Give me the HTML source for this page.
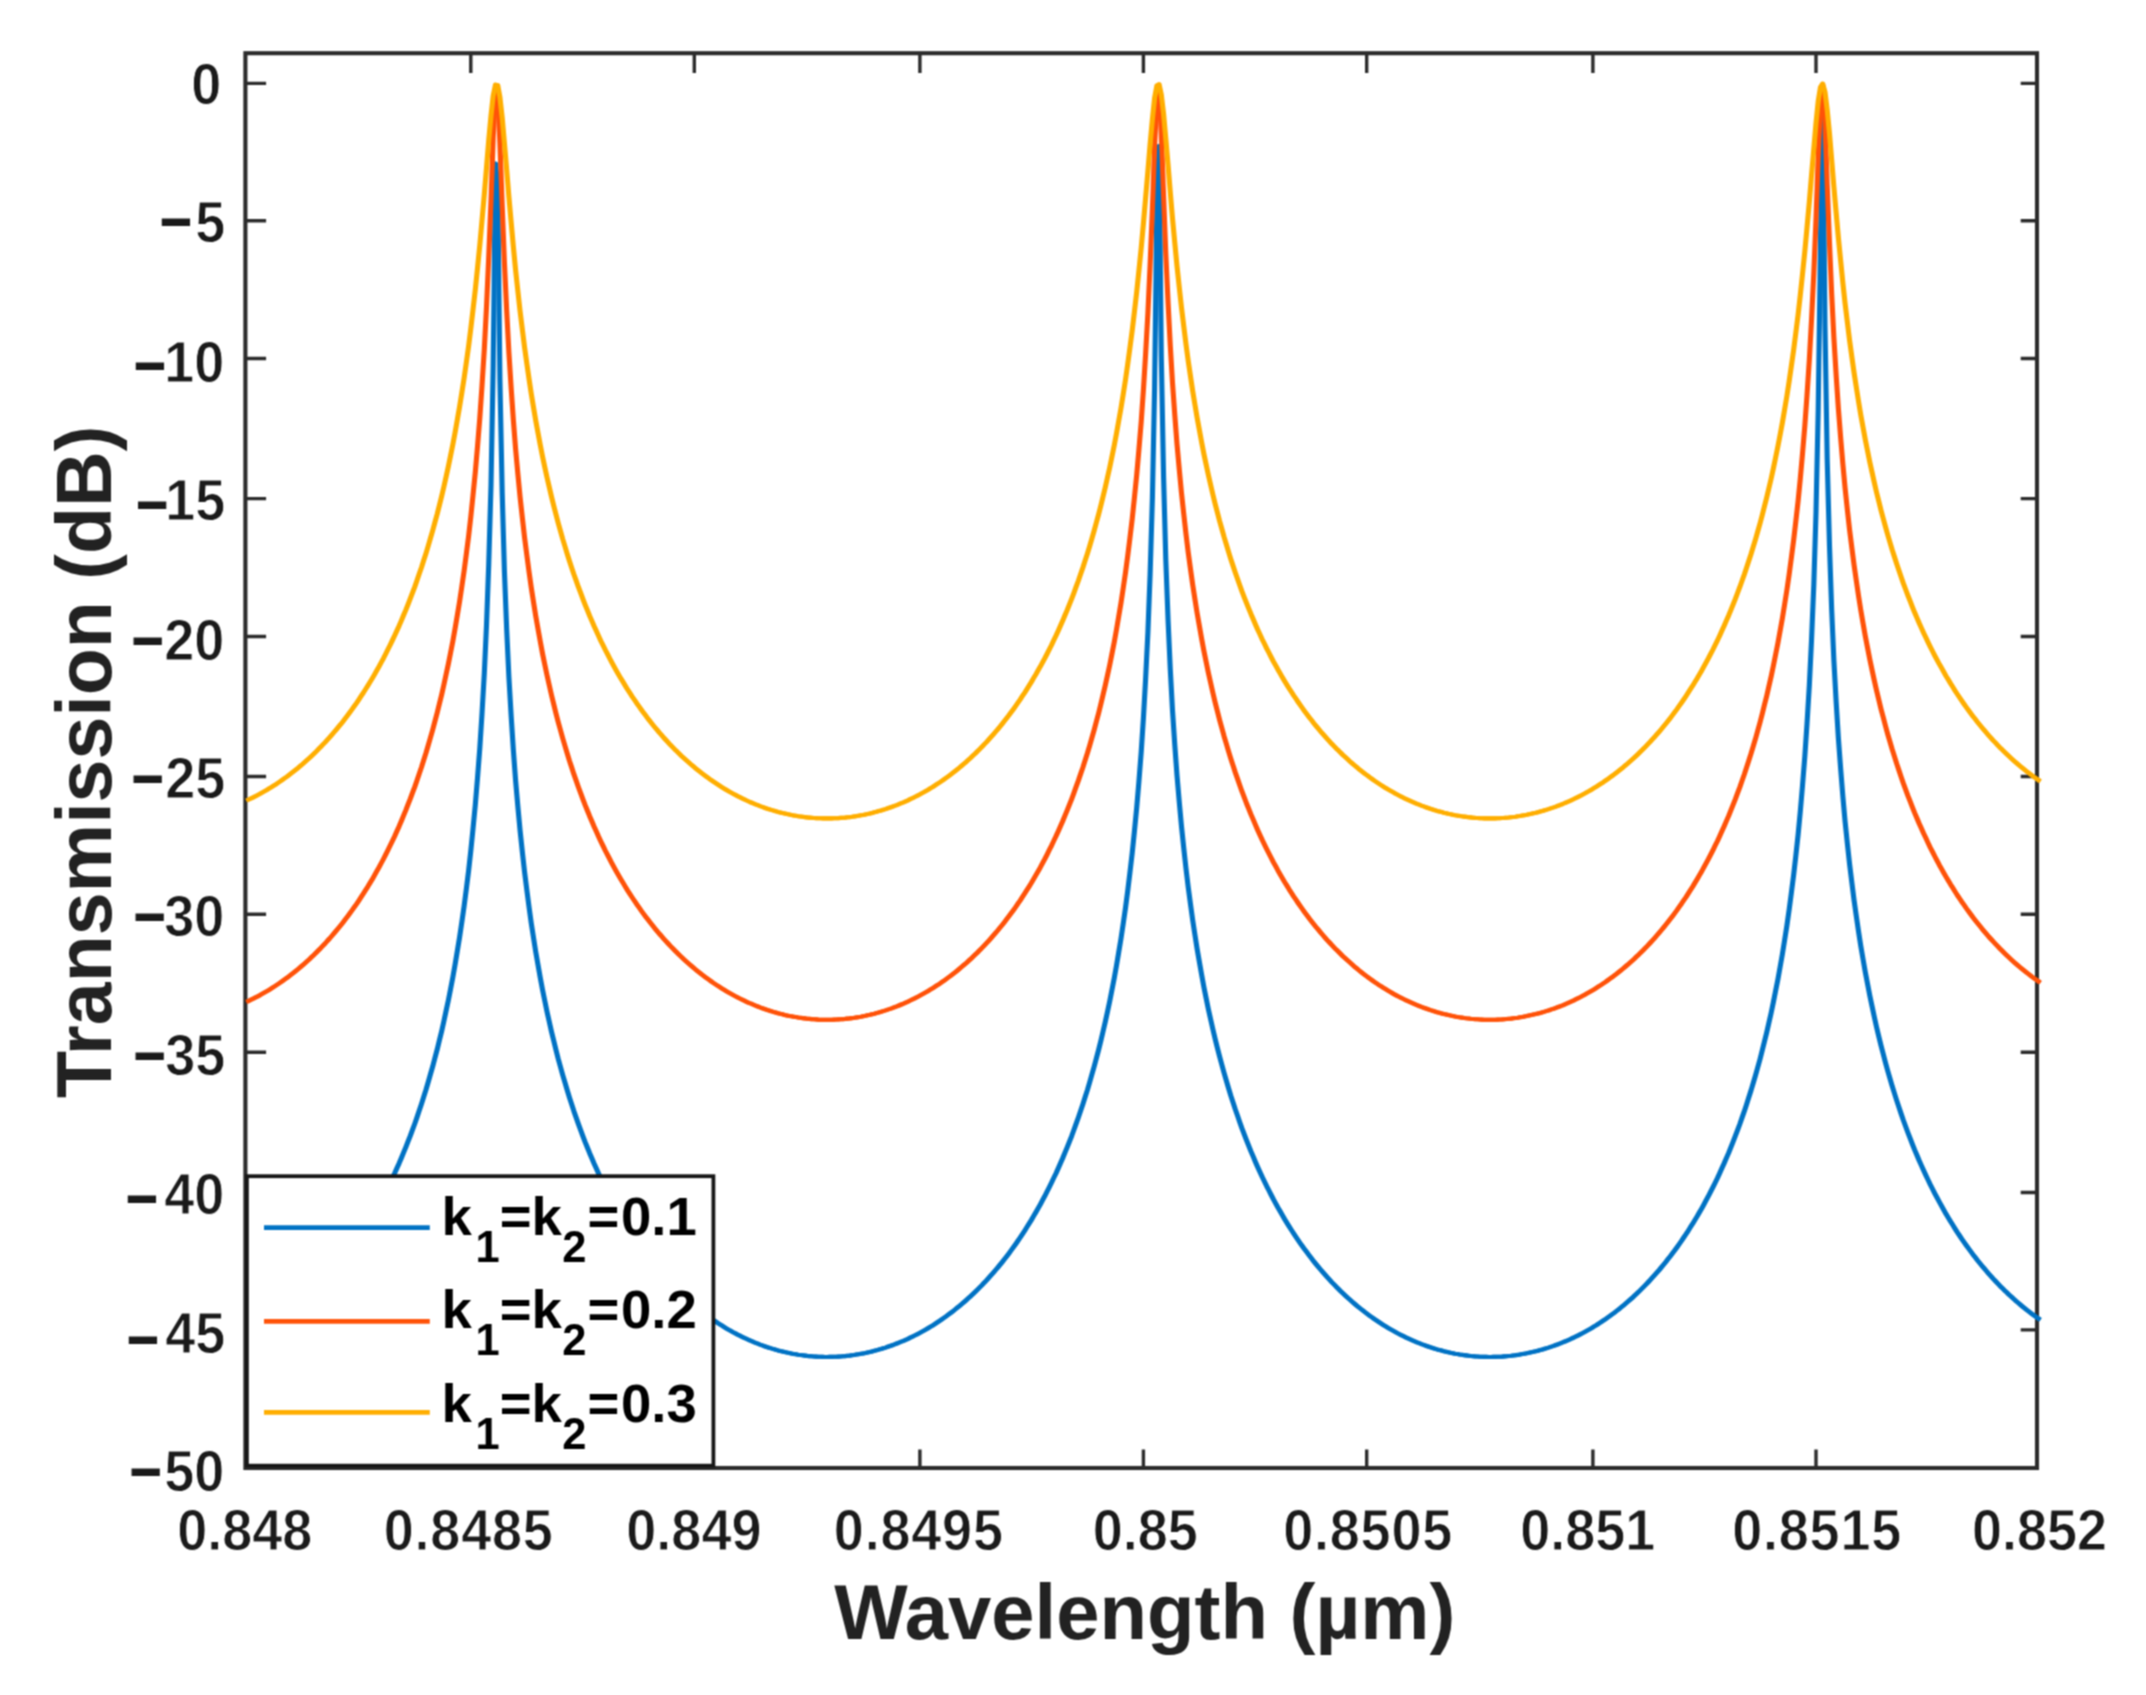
<!DOCTYPE html>
<html lang="en"><head><meta charset="utf-8"><title>Transmission vs Wavelength</title>
<style>
html,body{margin:0;padding:0;background:#fff;}
body{width:2146px;height:1695px;overflow:hidden;}
svg{display:block;}
text{font-family:"Liberation Sans",Arial,Helvetica,sans-serif;font-weight:bold;}
.tk{font-size:54.0px;fill:#1a1a1a;stroke:#fff;stroke-width:0.9px;}
.mn{stroke:#1a1a1a;stroke-width:1.2px;}
.lb{font-size:77.8px;fill:#222;}
.lg{font-size:54.5px;fill:#000;}
.sb{font-size:43.5px;}
</style></head><body>
<svg width="2146" height="1695" viewBox="0 0 2146 1695">
<rect x="0" y="0" width="2146" height="1695" fill="#ffffff"/>
<defs><filter id="soft" x="0" y="0" width="2146" height="1695" filterUnits="userSpaceOnUse" color-interpolation-filters="sRGB"><feConvolveMatrix order="3" kernelMatrix="1 2 1 2 4 2 1 2 1" edgeMode="duplicate" preserveAlpha="true"/></filter>
<polyline id="c0" points="246.6,1339.0 248.8,1338.0 251.1,1336.9 253.3,1335.8 255.6,1334.6 257.8,1333.4 260.1,1332.2 262.3,1331.0 264.5,1329.7 266.8,1328.4 269.0,1327.1 271.3,1325.7 273.5,1324.3 275.7,1322.8 278.0,1321.3 280.2,1319.8 282.5,1318.2 284.7,1316.6 287.0,1315.0 289.2,1313.3 291.4,1311.6 293.7,1309.8 295.9,1308.0 298.2,1306.2 300.4,1304.3 302.7,1302.4 304.9,1300.4 307.1,1298.4 309.4,1296.3 311.6,1294.2 313.9,1292.1 316.1,1289.9 318.3,1287.7 320.6,1285.4 322.8,1283.0 325.1,1280.6 327.3,1278.2 329.6,1275.7 331.8,1273.1 334.0,1270.5 336.3,1267.9 338.5,1265.2 340.8,1262.4 343.0,1259.6 345.2,1256.7 347.5,1253.7 349.7,1250.7 352.0,1247.6 354.2,1244.4 356.5,1241.2 358.7,1237.9 360.9,1234.5 363.2,1231.1 365.4,1227.5 367.7,1223.9 369.9,1220.2 372.2,1216.4 374.4,1212.6 376.6,1208.6 378.9,1204.6 381.1,1200.4 383.4,1196.2 385.6,1191.8 387.8,1187.4 390.1,1182.8 392.3,1178.1 394.6,1173.3 396.8,1168.4 399.1,1163.3 401.3,1158.1 403.5,1152.7 405.8,1147.2 408.0,1141.6 410.3,1135.8 412.5,1129.8 414.8,1123.6 417.0,1117.3 419.2,1110.7 421.5,1103.9 423.7,1096.9 426.0,1089.7 428.2,1082.2 430.4,1074.4 432.7,1066.4 434.9,1058.0 437.2,1049.4 439.4,1040.3 441.7,1030.9 443.9,1021.1 446.1,1010.8 448.4,1000.1 450.6,988.8 452.9,976.9 455.1,964.4 457.3,951.2 459.6,937.2 461.8,922.2 464.1,906.3 466.3,889.2 468.6,870.8 470.8,850.8 473.0,828.9 475.3,804.9 477.5,778.2 479.8,748.1 482.0,713.7 484.3,673.5 486.5,625.3 488.7,565.1 491.0,485.1 493.2,367.1 495.5,163.5 497.7,184.7 499.9,379.3 502.2,492.9 504.4,570.7 506.7,629.7 508.9,677.1 511.2,716.7 513.4,750.7 515.6,780.5 517.9,807.0 520.1,830.8 522.4,852.5 524.6,872.3 526.9,890.6 529.1,907.6 531.3,923.5 533.6,938.3 535.8,952.3 538.1,965.4 540.3,977.9 542.5,989.7 544.8,1000.9 547.0,1011.7 549.3,1021.9 551.5,1031.7 553.8,1041.0 556.0,1050.0 558.2,1058.7 560.5,1067.0 562.7,1075.0 565.0,1082.7 567.2,1090.2 569.4,1097.4 571.7,1104.4 573.9,1111.2 576.2,1117.7 578.4,1124.0 580.7,1130.2 582.9,1136.2 585.1,1142.0 587.4,1147.6 589.6,1153.1 591.9,1158.4 594.1,1163.6 596.4,1168.7 598.6,1173.6 600.8,1178.4 603.1,1183.1 605.3,1187.6 607.6,1192.1 609.8,1196.4 612.0,1200.6 614.3,1204.8 616.5,1208.8 618.8,1212.8 621.0,1216.6 623.3,1220.4 625.5,1224.1 627.7,1227.7 630.0,1231.2 632.2,1234.6 634.5,1238.0 636.7,1241.3 639.0,1244.5 641.2,1247.7 643.4,1250.8 645.7,1253.8 647.9,1256.7 650.2,1259.6 652.4,1262.5 654.6,1265.2 656.9,1267.9 659.1,1270.6 661.4,1273.2 663.6,1275.7 665.9,1278.2 668.1,1280.7 670.3,1283.1 672.6,1285.4 674.8,1287.7 677.1,1289.9 679.3,1292.1 681.5,1294.2 683.8,1296.3 686.0,1298.4 688.3,1300.4 690.5,1302.4 692.8,1304.3 695.0,1306.2 697.2,1308.0 699.5,1309.8 701.7,1311.6 704.0,1313.3 706.2,1314.9 708.5,1316.6 710.7,1318.2 712.9,1319.7 715.2,1321.3 717.4,1322.8 719.7,1324.2 721.9,1325.6 724.1,1327.0 726.4,1328.4 728.6,1329.7 730.9,1330.9 733.1,1332.2 735.4,1333.4 737.6,1334.6 739.8,1335.7 742.1,1336.8 744.3,1337.9 746.6,1338.9 748.8,1340.0 751.1,1340.9 753.3,1341.9 755.5,1342.8 757.8,1343.7 760.0,1344.6 762.3,1345.4 764.5,1346.2 766.7,1347.0 769.0,1347.7 771.2,1348.4 773.5,1349.1 775.7,1349.7 778.0,1350.4 780.2,1351.0 782.4,1351.5 784.7,1352.1 786.9,1352.6 789.2,1353.0 791.4,1353.5 793.6,1353.9 795.9,1354.3 798.1,1354.7 800.4,1355.0 802.6,1355.3 804.9,1355.6 807.1,1355.9 809.3,1356.1 811.6,1356.3 813.8,1356.5 816.1,1356.6 818.3,1356.8 820.6,1356.8 822.8,1356.9 825.0,1357.0 827.3,1357.0 829.5,1356.9 831.8,1356.9 834.0,1356.8 836.2,1356.7 838.5,1356.6 840.7,1356.5 843.0,1356.3 845.2,1356.1 847.5,1355.8 849.7,1355.6 851.9,1355.3 854.2,1355.0 856.4,1354.6 858.7,1354.2 860.9,1353.8 863.2,1353.4 865.4,1353.0 867.6,1352.5 869.9,1352.0 872.1,1351.4 874.4,1350.8 876.6,1350.3 878.8,1349.6 881.1,1349.0 883.3,1348.3 885.6,1347.6 887.8,1346.8 890.1,1346.0 892.3,1345.2 894.5,1344.4 896.8,1343.5 899.0,1342.6 901.3,1341.7 903.5,1340.8 905.7,1339.8 908.0,1338.8 910.2,1337.7 912.5,1336.6 914.7,1335.5 917.0,1334.4 919.2,1333.2 921.4,1332.0 923.7,1330.7 925.9,1329.4 928.2,1328.1 930.4,1326.8 932.7,1325.4 934.9,1324.0 937.1,1322.5 939.4,1321.0 941.6,1319.5 943.9,1317.9 946.1,1316.3 948.3,1314.7 950.6,1313.0 952.8,1311.3 955.1,1309.5 957.3,1307.7 959.6,1305.9 961.8,1304.0 964.0,1302.1 966.3,1300.1 968.5,1298.1 970.8,1296.1 973.0,1294.0 975.3,1291.8 977.5,1289.6 979.7,1287.4 982.0,1285.1 984.2,1282.7 986.5,1280.4 988.7,1277.9 990.9,1275.4 993.2,1272.9 995.4,1270.3 997.7,1267.6 999.9,1264.9 1002.2,1262.1 1004.4,1259.3 1006.6,1256.4 1008.9,1253.4 1011.1,1250.4 1013.4,1247.3 1015.6,1244.2 1017.8,1241.0 1020.1,1237.7 1022.3,1234.3 1024.6,1230.9 1026.8,1227.3 1029.1,1223.7 1031.3,1220.1 1033.5,1216.3 1035.8,1212.4 1038.0,1208.5 1040.3,1204.4 1042.5,1200.3 1044.8,1196.1 1047.0,1191.7 1049.2,1187.3 1051.5,1182.7 1053.7,1178.0 1056.0,1173.3 1058.2,1168.3 1060.4,1163.3 1062.7,1158.1 1064.9,1152.8 1067.2,1147.3 1069.4,1141.7 1071.7,1135.9 1073.9,1129.9 1076.1,1123.8 1078.4,1117.4 1080.6,1110.9 1082.9,1104.1 1085.1,1097.2 1087.4,1090.0 1089.6,1082.5 1091.8,1074.8 1094.1,1066.8 1096.3,1058.5 1098.6,1049.9 1100.8,1040.9 1103.0,1031.6 1105.3,1021.8 1107.5,1011.6 1109.8,1000.9 1112.0,989.7 1114.3,977.9 1116.5,965.5 1118.7,952.4 1121.0,938.5 1123.2,923.7 1125.5,907.9 1127.7,891.0 1129.9,872.8 1132.2,853.1 1134.4,831.5 1136.7,807.8 1138.9,781.6 1141.2,752.0 1143.4,718.3 1145.6,679.1 1147.9,632.4 1150.1,574.3 1152.4,498.1 1154.6,387.9 1156.9,200.9 1159.1,146.1 1161.3,356.2 1163.6,477.9 1165.8,559.6 1168.1,620.9 1170.3,669.7 1172.5,710.3 1174.8,745.1 1177.0,775.4 1179.3,802.3 1181.5,826.5 1183.8,848.5 1186.0,868.6 1188.2,887.1 1190.5,904.3 1192.7,920.3 1195.0,935.3 1197.2,949.4 1199.5,962.7 1201.7,975.2 1203.9,987.1 1206.2,998.5 1208.4,1009.3 1210.7,1019.6 1212.9,1029.4 1215.1,1038.8 1217.4,1047.9 1219.6,1056.6 1221.9,1065.0 1224.1,1073.0 1226.4,1080.8 1228.6,1088.3 1230.8,1095.6 1233.1,1102.6 1235.3,1109.4 1237.6,1115.9 1239.8,1122.3 1242.0,1128.5 1244.3,1134.5 1246.5,1140.3 1248.8,1146.0 1251.0,1151.5 1253.3,1156.8 1255.5,1162.1 1257.7,1167.1 1260.0,1172.1 1262.2,1176.9 1264.5,1181.6 1266.7,1186.2 1269.0,1190.6 1271.2,1195.0 1273.4,1199.3 1275.7,1203.4 1277.9,1207.5 1280.2,1211.4 1282.4,1215.3 1284.6,1219.1 1286.9,1222.8 1289.1,1226.4 1291.4,1230.0 1293.6,1233.4 1295.9,1236.8 1298.1,1240.1 1300.3,1243.3 1302.6,1246.5 1304.8,1249.6 1307.1,1252.6 1309.3,1255.6 1311.6,1258.5 1313.8,1261.4 1316.0,1264.1 1318.3,1266.9 1320.5,1269.5 1322.8,1272.2 1325.0,1274.7 1327.2,1277.2 1329.5,1279.7 1331.7,1282.1 1334.0,1284.4 1336.2,1286.7 1338.5,1289.0 1340.7,1291.2 1342.9,1293.3 1345.2,1295.4 1347.4,1297.5 1349.7,1299.5 1351.9,1301.5 1354.1,1303.4 1356.4,1305.3 1358.6,1307.2 1360.9,1309.0 1363.1,1310.7 1365.4,1312.5 1367.6,1314.2 1369.8,1315.8 1372.1,1317.4 1374.3,1319.0 1376.6,1320.5 1378.8,1322.0 1381.1,1323.5 1383.3,1324.9 1385.5,1326.3 1387.8,1327.7 1390.0,1329.0 1392.3,1330.3 1394.5,1331.5 1396.7,1332.8 1399.0,1334.0 1401.2,1335.1 1403.5,1336.2 1405.7,1337.3 1408.0,1338.4 1410.2,1339.4 1412.4,1340.4 1414.7,1341.4 1416.9,1342.3 1419.2,1343.2 1421.4,1344.1 1423.7,1344.9 1425.9,1345.7 1428.1,1346.5 1430.4,1347.3 1432.6,1348.0 1434.9,1348.7 1437.1,1349.4 1439.3,1350.0 1441.6,1350.6 1443.8,1351.2 1446.1,1351.7 1448.3,1352.3 1450.6,1352.8 1452.8,1353.2 1455.0,1353.7 1457.3,1354.1 1459.5,1354.5 1461.8,1354.8 1464.0,1355.1 1466.2,1355.4 1468.5,1355.7 1470.7,1356.0 1473.0,1356.2 1475.2,1356.4 1477.5,1356.5 1479.7,1356.7 1481.9,1356.8 1484.2,1356.9 1486.4,1356.9 1488.7,1357.0 1490.9,1357.0 1493.2,1356.9 1495.4,1356.9 1497.6,1356.8 1499.9,1356.7 1502.1,1356.6 1504.4,1356.4 1506.6,1356.2 1508.8,1356.0 1511.1,1355.8 1513.3,1355.5 1515.6,1355.2 1517.8,1354.9 1520.1,1354.5 1522.3,1354.1 1524.5,1353.7 1526.8,1353.3 1529.0,1352.8 1531.3,1352.3 1533.5,1351.8 1535.8,1351.3 1538.0,1350.7 1540.2,1350.1 1542.5,1349.5 1544.7,1348.8 1547.0,1348.1 1549.2,1347.4 1551.4,1346.6 1553.7,1345.9 1555.9,1345.0 1558.2,1344.2 1560.4,1343.3 1562.7,1342.4 1564.9,1341.5 1567.1,1340.6 1569.4,1339.6 1571.6,1338.5 1573.9,1337.5 1576.1,1336.4 1578.3,1335.3 1580.6,1334.1 1582.8,1333.0 1585.1,1331.7 1587.3,1330.5 1589.6,1329.2 1591.8,1327.9 1594.0,1326.5 1596.3,1325.2 1598.5,1323.7 1600.8,1322.3 1603.0,1320.8 1605.3,1319.3 1607.5,1317.7 1609.7,1316.1 1612.0,1314.4 1614.2,1312.8 1616.5,1311.0 1618.7,1309.3 1620.9,1307.5 1623.2,1305.7 1625.4,1303.8 1627.7,1301.8 1629.9,1299.9 1632.2,1297.9 1634.4,1295.8 1636.6,1293.7 1638.9,1291.6 1641.1,1289.4 1643.4,1287.1 1645.6,1284.9 1647.9,1282.5 1650.1,1280.1 1652.3,1277.7 1654.6,1275.2 1656.8,1272.7 1659.1,1270.1 1661.3,1267.4 1663.5,1264.7 1665.8,1262.0 1668.0,1259.1 1670.3,1256.2 1672.5,1253.3 1674.8,1250.3 1677.0,1247.2 1679.2,1244.1 1681.5,1240.8 1683.7,1237.5 1686.0,1234.2 1688.2,1230.8 1690.4,1227.2 1692.7,1223.7 1694.9,1220.0 1697.2,1216.2 1699.4,1212.4 1701.7,1208.4 1703.9,1204.4 1706.1,1200.3 1708.4,1196.1 1710.6,1191.8 1712.9,1187.3 1715.1,1182.8 1717.4,1178.1 1719.6,1173.3 1721.8,1168.4 1724.1,1163.4 1726.3,1158.3 1728.6,1153.0 1730.8,1147.5 1733.0,1141.9 1735.3,1136.1 1737.5,1130.2 1739.8,1124.1 1742.0,1117.8 1744.3,1111.3 1746.5,1104.6 1748.7,1097.6 1751.0,1090.5 1753.2,1083.1 1755.5,1075.4 1757.7,1067.5 1760.0,1059.2 1762.2,1050.6 1764.4,1041.7 1766.7,1032.4 1768.9,1022.8 1771.2,1012.6 1773.4,1002.0 1775.6,990.9 1777.9,979.3 1780.1,967.0 1782.4,954.0 1784.6,940.2 1786.9,925.6 1789.1,910.0 1791.3,893.3 1793.6,875.3 1795.8,855.9 1798.1,834.7 1800.3,811.4 1802.5,785.6 1804.8,756.7 1807.0,723.9 1809.3,685.8 1811.5,640.6 1813.8,584.9 1816.0,512.8 1818.2,410.6 1820.5,242.5 1822.7,105.4 1825.0,326.2 1827.2,459.2 1829.5,546.1 1831.7,610.2 1833.9,660.8 1836.2,702.7 1838.4,738.4 1840.7,769.4 1842.9,796.9 1845.1,821.6 1847.4,843.9 1849.6,864.3 1851.9,883.1 1854.1,900.5 1856.4,916.7 1858.6,931.9 1860.8,946.1 1863.1,959.5 1865.3,972.2 1867.6,984.2 1869.8,995.7 1872.1,1006.5 1874.3,1016.9 1876.5,1026.9 1878.8,1036.4 1881.0,1045.5 1883.3,1054.2 1885.5,1062.7 1887.7,1070.8 1890.0,1078.6 1892.2,1086.2 1894.5,1093.5 1896.7,1100.5 1899.0,1107.4 1901.2,1114.0 1903.4,1120.4 1905.7,1126.6 1907.9,1132.6 1910.2,1138.5 1912.4,1144.2 1914.6,1149.7 1916.9,1155.1 1919.1,1160.4 1921.4,1165.5 1923.6,1170.4 1925.9,1175.3 1928.1,1180.0 1930.3,1184.6 1932.6,1189.1 1934.8,1193.5 1937.1,1197.8 1939.3,1201.9 1941.6,1206.0 1943.8,1210.0 1946.0,1213.9 1948.3,1217.7 1950.5,1221.4 1952.8,1225.0 1955.0,1228.6 1957.2,1232.1 1959.5,1235.5 1961.7,1238.8 1964.0,1242.1 1966.2,1245.2 1968.5,1248.4 1970.7,1251.4 1972.9,1254.4 1975.2,1257.3 1977.4,1260.2 1979.7,1263.0 1981.9,1265.7 1984.2,1268.4 1986.4,1271.0 1988.6,1273.6 1990.9,1276.1 1993.1,1278.6 1995.4,1281.0 1997.6,1283.4 1999.8,1285.7 2002.1,1287.9 2004.3,1290.2 2006.6,1292.3 2008.8,1294.4 2011.1,1296.5 2013.3,1298.6 2015.5,1300.6 2017.8,1302.5 2020.0,1304.4 2022.3,1306.3 2024.5,1308.1 2026.7,1309.9 2029.0,1311.6 2031.2,1313.3 2033.5,1315.0 2035.7,1316.6 2038.0,1318.2 2040.2,1319.7"/><polyline id="c1" points="246.6,1001.8 248.8,1000.8 251.1,999.7 253.3,998.6 255.6,997.4 257.8,996.3 260.1,995.1 262.3,993.8 264.5,992.5 266.8,991.2 269.0,989.9 271.3,988.5 273.5,987.1 275.7,985.6 278.0,984.1 280.2,982.6 282.5,981.0 284.7,979.4 287.0,977.8 289.2,976.1 291.4,974.4 293.7,972.7 295.9,970.9 298.2,969.0 300.4,967.1 302.7,965.2 304.9,963.2 307.1,961.2 309.4,959.2 311.6,957.1 313.9,954.9 316.1,952.7 318.3,950.5 320.6,948.2 322.8,945.9 325.1,943.5 327.3,941.0 329.6,938.5 331.8,936.0 334.0,933.4 336.3,930.7 338.5,928.0 340.8,925.2 343.0,922.4 345.2,919.5 347.5,916.6 349.7,913.5 352.0,910.4 354.2,907.3 356.5,904.1 358.7,900.8 360.9,897.4 363.2,893.9 365.4,890.4 367.7,886.8 369.9,883.1 372.2,879.4 374.4,875.5 376.6,871.5 378.9,867.5 381.1,863.4 383.4,859.1 385.6,854.8 387.8,850.3 390.1,845.7 392.3,841.1 394.6,836.3 396.8,831.3 399.1,826.3 401.3,821.1 403.5,815.8 405.8,810.3 408.0,804.6 410.3,798.8 412.5,792.8 414.8,786.7 417.0,780.4 419.2,773.8 421.5,767.1 423.7,760.1 426.0,752.9 428.2,745.4 430.4,737.7 432.7,729.7 434.9,721.4 437.2,712.7 439.4,703.8 441.7,694.4 443.9,684.6 446.1,674.4 448.4,663.8 450.6,652.6 452.9,640.8 455.1,628.4 457.3,615.3 459.6,601.5 461.8,586.7 464.1,571.0 466.3,554.2 468.6,536.2 470.8,516.7 473.0,495.4 475.3,472.2 477.5,446.6 479.8,418.0 482.0,385.9 484.3,349.3 486.5,307.1 488.7,257.8 491.0,200.6 493.2,138.4 495.5,90.1 497.7,92.7 499.9,143.5 502.2,205.6 504.4,262.2 506.7,310.8 508.9,352.6 511.2,388.7 513.4,420.5 515.6,448.8 517.9,474.2 520.1,497.2 522.4,518.3 524.6,537.7 526.9,555.6 529.1,572.3 531.3,587.9 533.6,602.6 535.8,616.4 538.1,629.4 540.3,641.7 542.5,653.5 544.8,664.6 547.0,675.2 549.3,685.4 551.5,695.1 553.8,704.4 556.0,713.4 558.2,722.0 560.5,730.3 562.7,738.3 565.0,746.0 567.2,753.4 569.4,760.6 571.7,767.5 573.9,774.3 576.2,780.8 578.4,787.1 580.7,793.3 582.9,799.2 585.1,805.0 587.4,810.6 589.6,816.1 591.9,821.4 594.1,826.6 596.4,831.6 598.6,836.6 600.8,841.3 603.1,846.0 605.3,850.6 607.6,855.0 609.8,859.3 612.0,863.6 614.3,867.7 616.5,871.7 618.8,875.7 621.0,879.5 623.3,883.3 625.5,887.0 627.7,890.6 630.0,894.1 632.2,897.5 634.5,900.9 636.7,904.2 639.0,907.4 641.2,910.6 643.4,913.6 645.7,916.7 647.9,919.6 650.2,922.5 652.4,925.3 654.6,928.1 656.9,930.8 659.1,933.5 661.4,936.0 663.6,938.6 665.9,941.1 668.1,943.5 670.3,945.9 672.6,948.2 674.8,950.5 677.1,952.8 679.3,954.9 681.5,957.1 683.8,959.2 686.0,961.2 688.3,963.2 690.5,965.2 692.8,967.1 695.0,969.0 697.2,970.8 699.5,972.6 701.7,974.4 704.0,976.1 706.2,977.8 708.5,979.4 710.7,981.0 712.9,982.6 715.2,984.1 717.4,985.6 719.7,987.0 721.9,988.4 724.1,989.8 726.4,991.2 728.6,992.5 730.9,993.8 733.1,995.0 735.4,996.2 737.6,997.4 739.8,998.5 742.1,999.6 744.3,1000.7 746.6,1001.8 748.8,1002.8 751.1,1003.7 753.3,1004.7 755.5,1005.6 757.8,1006.5 760.0,1007.4 762.3,1008.2 764.5,1009.0 766.7,1009.8 769.0,1010.5 771.2,1011.2 773.5,1011.9 775.7,1012.5 778.0,1013.2 780.2,1013.8 782.4,1014.3 784.7,1014.9 786.9,1015.4 789.2,1015.9 791.4,1016.3 793.6,1016.7 795.9,1017.1 798.1,1017.5 800.4,1017.8 802.6,1018.1 804.9,1018.4 807.1,1018.7 809.3,1018.9 811.6,1019.1 813.8,1019.3 816.1,1019.4 818.3,1019.6 820.6,1019.7 822.8,1019.7 825.0,1019.8 827.3,1019.8 829.5,1019.8 831.8,1019.7 834.0,1019.6 836.2,1019.5 838.5,1019.4 840.7,1019.3 843.0,1019.1 845.2,1018.9 847.5,1018.6 849.7,1018.4 851.9,1018.1 854.2,1017.8 856.4,1017.4 858.7,1017.1 860.9,1016.7 863.2,1016.2 865.4,1015.8 867.6,1015.3 869.9,1014.8 872.1,1014.2 874.4,1013.7 876.6,1013.1 878.8,1012.4 881.1,1011.8 883.3,1011.1 885.6,1010.4 887.8,1009.6 890.1,1008.9 892.3,1008.1 894.5,1007.2 896.8,1006.4 899.0,1005.5 901.3,1004.5 903.5,1003.6 905.7,1002.6 908.0,1001.6 910.2,1000.5 912.5,999.4 914.7,998.3 917.0,997.2 919.2,996.0 921.4,994.8 923.7,993.5 925.9,992.3 928.2,990.9 930.4,989.6 932.7,988.2 934.9,986.8 937.1,985.3 939.4,983.9 941.6,982.3 943.9,980.8 946.1,979.2 948.3,977.5 950.6,975.8 952.8,974.1 955.1,972.4 957.3,970.6 959.6,968.7 961.8,966.8 964.0,964.9 966.3,963.0 968.5,960.9 970.8,958.9 973.0,956.8 975.3,954.6 977.5,952.5 979.7,950.2 982.0,947.9 984.2,945.6 986.5,943.2 988.7,940.8 990.9,938.3 993.2,935.7 995.4,933.1 997.7,930.5 999.9,927.8 1002.2,925.0 1004.4,922.2 1006.6,919.3 1008.9,916.3 1011.1,913.3 1013.4,910.2 1015.6,907.1 1017.8,903.8 1020.1,900.6 1022.3,897.2 1024.6,893.7 1026.8,890.2 1029.1,886.6 1031.3,883.0 1033.5,879.2 1035.8,875.3 1038.0,871.4 1040.3,867.4 1042.5,863.2 1044.8,859.0 1047.0,854.7 1049.2,850.2 1051.5,845.7 1053.7,841.0 1056.0,836.2 1058.2,831.3 1060.4,826.3 1062.7,821.1 1064.9,815.8 1067.2,810.3 1069.4,804.7 1071.7,798.9 1073.9,793.0 1076.1,786.8 1078.4,780.5 1080.6,774.0 1082.9,767.3 1085.1,760.3 1087.4,753.2 1089.6,745.8 1091.8,738.1 1094.1,730.1 1096.3,721.8 1098.6,713.2 1100.8,704.3 1103.0,695.0 1105.3,685.3 1107.5,675.2 1109.8,664.6 1112.0,653.5 1114.3,641.8 1116.5,629.5 1118.7,616.5 1121.0,602.8 1123.2,588.2 1125.5,572.6 1127.7,556.0 1129.9,538.2 1132.2,518.9 1134.4,497.9 1136.7,475.0 1138.9,449.8 1141.2,421.8 1143.4,390.2 1145.6,354.4 1147.9,313.1 1150.1,265.1 1152.4,209.1 1154.6,147.3 1156.9,94.9 1159.1,88.3 1161.3,134.1 1163.6,196.0 1165.8,253.6 1168.1,303.3 1170.3,345.9 1172.5,382.8 1174.8,415.2 1177.0,444.0 1179.3,469.7 1181.5,493.1 1183.8,514.4 1186.0,534.1 1188.2,552.2 1190.5,569.1 1192.7,584.8 1195.0,599.6 1197.2,613.5 1199.5,626.7 1201.7,639.1 1203.9,650.9 1206.2,662.1 1208.4,672.9 1210.7,683.1 1212.9,692.9 1215.1,702.3 1217.4,711.3 1219.6,719.9 1221.9,728.2 1224.1,736.3 1226.4,744.0 1228.6,751.5 1230.8,758.7 1233.1,765.7 1235.3,772.5 1237.6,779.0 1239.8,785.4 1242.0,791.6 1244.3,797.5 1246.5,803.4 1248.8,809.0 1251.0,814.5 1253.3,819.8 1255.5,825.0 1257.7,830.1 1260.0,835.1 1262.2,839.9 1264.5,844.6 1266.7,849.1 1269.0,853.6 1271.2,857.9 1273.4,862.2 1275.7,866.3 1277.9,870.4 1280.2,874.4 1282.4,878.2 1284.6,882.0 1286.9,885.7 1289.1,889.3 1291.4,892.8 1293.6,896.3 1295.9,899.7 1298.1,903.0 1300.3,906.2 1302.6,909.4 1304.8,912.5 1307.1,915.5 1309.3,918.5 1311.6,921.4 1313.8,924.2 1316.0,927.0 1318.3,929.7 1320.5,932.4 1322.8,935.0 1325.0,937.6 1327.2,940.1 1329.5,942.5 1331.7,944.9 1334.0,947.3 1336.2,949.6 1338.5,951.8 1340.7,954.0 1342.9,956.2 1345.2,958.3 1347.4,960.3 1349.7,962.3 1351.9,964.3 1354.1,966.3 1356.4,968.1 1358.6,970.0 1360.9,971.8 1363.1,973.6 1365.4,975.3 1367.6,977.0 1369.8,978.6 1372.1,980.2 1374.3,981.8 1376.6,983.4 1378.8,984.9 1381.1,986.3 1383.3,987.7 1385.5,989.1 1387.8,990.5 1390.0,991.8 1392.3,993.1 1394.5,994.4 1396.7,995.6 1399.0,996.8 1401.2,997.9 1403.5,999.0 1405.7,1000.1 1408.0,1001.2 1410.2,1002.2 1412.4,1003.2 1414.7,1004.2 1416.9,1005.1 1419.2,1006.0 1421.4,1006.9 1423.7,1007.7 1425.9,1008.5 1428.1,1009.3 1430.4,1010.1 1432.6,1010.8 1434.9,1011.5 1437.1,1012.2 1439.3,1012.8 1441.6,1013.4 1443.8,1014.0 1446.1,1014.5 1448.3,1015.1 1450.6,1015.6 1452.8,1016.0 1455.0,1016.5 1457.3,1016.9 1459.5,1017.3 1461.8,1017.6 1464.0,1018.0 1466.2,1018.3 1468.5,1018.5 1470.7,1018.8 1473.0,1019.0 1475.2,1019.2 1477.5,1019.3 1479.7,1019.5 1481.9,1019.6 1484.2,1019.7 1486.4,1019.7 1488.7,1019.8 1490.9,1019.8 1493.2,1019.7 1495.4,1019.7 1497.6,1019.6 1499.9,1019.5 1502.1,1019.4 1504.4,1019.2 1506.6,1019.0 1508.8,1018.8 1511.1,1018.6 1513.3,1018.3 1515.6,1018.0 1517.8,1017.7 1520.1,1017.3 1522.3,1016.9 1524.5,1016.5 1526.8,1016.1 1529.0,1015.6 1531.3,1015.1 1533.5,1014.6 1535.8,1014.1 1538.0,1013.5 1540.2,1012.9 1542.5,1012.3 1544.7,1011.6 1547.0,1010.9 1549.2,1010.2 1551.4,1009.4 1553.7,1008.7 1555.9,1007.9 1558.2,1007.0 1560.4,1006.2 1562.7,1005.3 1564.9,1004.3 1567.1,1003.4 1569.4,1002.4 1571.6,1001.4 1573.9,1000.3 1576.1,999.2 1578.3,998.1 1580.6,997.0 1582.8,995.8 1585.1,994.6 1587.3,993.3 1589.6,992.0 1591.8,990.7 1594.0,989.4 1596.3,988.0 1598.5,986.6 1600.8,985.1 1603.0,983.6 1605.3,982.1 1607.5,980.5 1609.7,978.9 1612.0,977.3 1614.2,975.6 1616.5,973.9 1618.7,972.1 1620.9,970.3 1623.2,968.5 1625.4,966.6 1627.7,964.7 1629.9,962.7 1632.2,960.7 1634.4,958.7 1636.6,956.6 1638.9,954.4 1641.1,952.2 1643.4,950.0 1645.6,947.7 1647.9,945.4 1650.1,943.0 1652.3,940.6 1654.6,938.1 1656.8,935.5 1659.1,932.9 1661.3,930.3 1663.5,927.6 1665.8,924.8 1668.0,922.0 1670.3,919.1 1672.5,916.2 1674.8,913.1 1677.0,910.1 1679.2,906.9 1681.5,903.7 1683.7,900.4 1686.0,897.1 1688.2,893.6 1690.4,890.1 1692.7,886.6 1694.9,882.9 1697.2,879.1 1699.4,875.3 1701.7,871.4 1703.9,867.3 1706.1,863.2 1708.4,859.0 1710.6,854.7 1712.9,850.3 1715.1,845.7 1717.4,841.1 1719.6,836.3 1721.8,831.4 1724.1,826.4 1726.3,821.3 1728.6,816.0 1730.8,810.5 1733.0,804.9 1735.3,799.2 1737.5,793.3 1739.8,787.2 1742.0,780.9 1744.3,774.4 1746.5,767.7 1748.7,760.8 1751.0,753.7 1753.2,746.3 1755.5,738.7 1757.7,730.7 1760.0,722.5 1762.2,714.0 1764.4,705.1 1766.7,695.9 1768.9,686.3 1771.2,676.2 1773.4,665.7 1775.6,654.7 1777.9,643.1 1780.1,630.9 1782.4,618.1 1784.6,604.5 1786.9,590.0 1789.1,574.7 1791.3,558.3 1793.6,540.6 1795.8,521.6 1798.1,501.0 1800.3,478.5 1802.5,453.7 1804.8,426.2 1807.0,395.4 1809.3,360.4 1811.5,320.3 1813.8,273.6 1816.0,219.1 1818.2,158.0 1820.5,102.0 1822.7,84.9 1825.0,123.5 1827.2,184.5 1829.5,243.2 1831.7,294.3 1833.9,338.0 1836.2,375.8 1838.4,408.9 1840.7,438.3 1842.9,464.5 1845.1,488.3 1847.4,510.0 1849.6,529.9 1851.9,548.3 1854.1,565.3 1856.4,581.3 1858.6,596.2 1860.8,610.3 1863.1,623.6 1865.3,636.1 1867.6,648.0 1869.8,659.4 1872.1,670.2 1874.3,680.5 1876.5,690.3 1878.8,699.8 1881.0,708.9 1883.3,717.6 1885.5,726.0 1887.7,734.1 1890.0,741.9 1892.2,749.4 1894.5,756.6 1896.7,763.7 1899.0,770.5 1901.2,777.1 1903.4,783.5 1905.7,789.7 1907.9,795.7 1910.2,801.5 1912.4,807.2 1914.6,812.7 1916.9,818.1 1919.1,823.4 1921.4,828.4 1923.6,833.4 1925.9,838.2 1928.1,843.0 1930.3,847.6 1932.6,852.0 1934.8,856.4 1937.1,860.7 1939.3,864.9 1941.6,868.9 1943.8,872.9 1946.0,876.8 1948.3,880.6 1950.5,884.3 1952.8,887.9 1955.0,891.5 1957.2,895.0 1959.5,898.4 1961.7,901.7 1964.0,904.9 1966.2,908.1 1968.5,911.2 1970.7,914.3 1972.9,917.3 1975.2,920.2 1977.4,923.0 1979.7,925.8 1981.9,928.6 1984.2,931.3 1986.4,933.9 1988.6,936.5 1990.9,939.0 1993.1,941.4 1995.4,943.8 1997.6,946.2 1999.8,948.5 2002.1,950.8 2004.3,953.0 2006.6,955.2 2008.8,957.3 2011.1,959.4 2013.3,961.4 2015.5,963.4 2017.8,965.3 2020.0,967.2 2022.3,969.1 2024.5,970.9 2026.7,972.7 2029.0,974.4 2031.2,976.1 2033.5,977.8 2035.7,979.4 2038.0,981.0 2040.2,982.6"/><polyline id="c2" points="246.6,800.5 248.8,799.5 251.1,798.4 253.3,797.3 255.6,796.2 257.8,795.0 260.1,793.8 262.3,792.5 264.5,791.3 266.8,790.0 269.0,788.6 271.3,787.2 273.5,785.8 275.7,784.4 278.0,782.9 280.2,781.4 282.5,779.8 284.7,778.2 287.0,776.6 289.2,774.9 291.4,773.2 293.7,771.4 295.9,769.6 298.2,767.8 300.4,765.9 302.7,764.0 304.9,762.0 307.1,760.0 309.4,758.0 311.6,755.9 313.9,753.8 316.1,751.6 318.3,749.3 320.6,747.1 322.8,744.7 325.1,742.3 327.3,739.9 329.6,737.4 331.8,734.9 334.0,732.3 336.3,729.6 338.5,726.9 340.8,724.2 343.0,721.4 345.2,718.5 347.5,715.5 349.7,712.5 352.0,709.4 354.2,706.3 356.5,703.1 358.7,699.8 360.9,696.4 363.2,693.0 365.4,689.5 367.7,685.9 369.9,682.3 372.2,678.5 374.4,674.7 376.6,670.7 378.9,666.7 381.1,662.6 383.4,658.4 385.6,654.1 387.8,649.7 390.1,645.1 392.3,640.5 394.6,635.7 396.8,630.8 399.1,625.8 401.3,620.7 403.5,615.4 405.8,610.0 408.0,604.4 410.3,598.6 412.5,592.7 414.8,586.7 417.0,580.4 419.2,573.9 421.5,567.3 423.7,560.4 426.0,553.3 428.2,546.0 430.4,538.4 432.7,530.5 434.9,522.4 437.2,514.0 439.4,505.2 441.7,496.1 443.9,486.6 446.1,476.7 448.4,466.3 450.6,455.5 452.9,444.2 455.1,432.4 457.3,419.9 459.6,406.7 461.8,392.9 464.1,378.2 466.3,362.7 468.6,346.2 470.8,328.6 473.0,309.8 475.3,289.7 477.5,268.2 479.8,245.1 482.0,220.6 484.3,194.6 486.5,167.7 488.7,140.7 491.0,115.8 493.2,95.8 495.5,84.7 497.7,85.2 499.9,97.2 502.2,117.7 504.4,142.9 506.7,169.9 508.9,196.8 511.2,222.7 513.4,247.1 515.6,270.0 517.9,291.4 520.1,311.4 522.4,330.1 524.6,347.6 526.9,364.0 529.1,379.4 531.3,394.0 533.6,407.8 535.8,420.9 538.1,433.3 540.3,445.1 542.5,456.4 544.8,467.2 547.0,477.4 549.3,487.3 551.5,496.8 553.8,505.9 556.0,514.6 558.2,523.0 560.5,531.1 562.7,539.0 565.0,546.5 567.2,553.8 569.4,560.9 571.7,567.8 573.9,574.4 576.2,580.8 578.4,587.1 580.7,593.1 582.9,599.0 585.1,604.7 587.4,610.3 589.6,615.7 591.9,621.0 594.1,626.1 596.4,631.1 598.6,636.0 600.8,640.8 603.1,645.4 605.3,649.9 607.6,654.3 609.8,658.6 612.0,662.8 614.3,666.9 616.5,670.9 618.8,674.9 621.0,678.7 623.3,682.4 625.5,686.1 627.7,689.7 630.0,693.2 632.2,696.6 634.5,699.9 636.7,703.2 639.0,706.4 641.2,709.5 643.4,712.6 645.7,715.6 647.9,718.6 650.2,721.4 652.4,724.3 654.6,727.0 656.9,729.7 659.1,732.4 661.4,734.9 663.6,737.5 665.9,740.0 668.1,742.4 670.3,744.8 672.6,747.1 674.8,749.4 677.1,751.6 679.3,753.8 681.5,755.9 683.8,758.0 686.0,760.0 688.3,762.0 690.5,764.0 692.8,765.9 695.0,767.8 697.2,769.6 699.5,771.4 701.7,773.2 704.0,774.9 706.2,776.5 708.5,778.2 710.7,779.8 712.9,781.3 715.2,782.8 717.4,784.3 719.7,785.8 721.9,787.2 724.1,788.6 726.4,789.9 728.6,791.2 730.9,792.5 733.1,793.7 735.4,794.9 737.6,796.1 739.8,797.2 742.1,798.3 744.3,799.4 746.6,800.5 748.8,801.5 751.1,802.5 753.3,803.4 755.5,804.3 757.8,805.2 760.0,806.1 762.3,806.9 764.5,807.7 766.7,808.5 769.0,809.2 771.2,809.9 773.5,810.6 775.7,811.2 778.0,811.9 780.2,812.4 782.4,813.0 784.7,813.5 786.9,814.1 789.2,814.5 791.4,815.0 793.6,815.4 795.9,815.8 798.1,816.2 800.4,816.5 802.6,816.8 804.9,817.1 807.1,817.4 809.3,817.6 811.6,817.8 813.8,818.0 816.1,818.1 818.3,818.2 820.6,818.3 822.8,818.4 825.0,818.4 827.3,818.4 829.5,818.4 831.8,818.4 834.0,818.3 836.2,818.2 838.5,818.1 840.7,817.9 843.0,817.8 845.2,817.6 847.5,817.3 849.7,817.1 851.9,816.8 854.2,816.4 856.4,816.1 858.7,815.7 860.9,815.3 863.2,814.9 865.4,814.4 867.6,814.0 869.9,813.5 872.1,812.9 874.4,812.3 876.6,811.7 878.8,811.1 881.1,810.5 883.3,809.8 885.6,809.1 887.8,808.3 890.1,807.5 892.3,806.7 894.5,805.9 896.8,805.1 899.0,804.2 901.3,803.2 903.5,802.3 905.7,801.3 908.0,800.3 910.2,799.2 912.5,798.2 914.7,797.0 917.0,795.9 919.2,794.7 921.4,793.5 923.7,792.3 925.9,791.0 928.2,789.7 930.4,788.3 932.7,787.0 934.9,785.5 937.1,784.1 939.4,782.6 941.6,781.1 943.9,779.5 946.1,777.9 948.3,776.3 950.6,774.6 952.8,772.9 955.1,771.1 957.3,769.3 959.6,767.5 961.8,765.6 964.0,763.7 966.3,761.8 968.5,759.8 970.8,757.7 973.0,755.6 975.3,753.5 977.5,751.3 979.7,749.1 982.0,746.8 984.2,744.4 986.5,742.1 988.7,739.6 990.9,737.2 993.2,734.6 995.4,732.0 997.7,729.4 999.9,726.7 1002.2,723.9 1004.4,721.1 1006.6,718.2 1008.9,715.3 1011.1,712.3 1013.4,709.2 1015.6,706.1 1017.8,702.9 1020.1,699.6 1022.3,696.2 1024.6,692.8 1026.8,689.3 1029.1,685.7 1031.3,682.1 1033.5,678.3 1035.8,674.5 1038.0,670.6 1040.3,666.6 1042.5,662.5 1044.8,658.3 1047.0,654.0 1049.2,649.6 1051.5,645.1 1053.7,640.4 1056.0,635.7 1058.2,630.8 1060.4,625.8 1062.7,620.7 1064.9,615.4 1067.2,610.0 1069.4,604.4 1071.7,598.7 1073.9,592.9 1076.1,586.8 1078.4,580.6 1080.6,574.1 1082.9,567.5 1085.1,560.7 1087.4,553.6 1089.6,546.3 1091.8,538.8 1094.1,530.9 1096.3,522.8 1098.6,514.4 1100.8,505.7 1103.0,496.7 1105.3,487.2 1107.5,477.4 1109.8,467.1 1112.0,456.4 1114.3,445.2 1116.5,433.4 1118.7,421.0 1121.0,408.0 1123.2,394.3 1125.5,379.7 1127.7,364.3 1129.9,348.0 1132.2,330.6 1134.4,312.0 1136.7,292.1 1138.9,270.8 1141.2,248.1 1143.4,223.8 1145.6,198.1 1147.9,171.3 1150.1,144.4 1152.4,119.1 1154.6,98.2 1156.9,85.6 1159.1,84.3 1161.3,94.7 1163.6,114.0 1165.8,138.7 1168.1,165.4 1170.3,192.3 1172.5,218.3 1174.8,242.9 1177.0,266.0 1179.3,287.6 1181.5,307.8 1183.8,326.6 1186.0,344.3 1188.2,360.8 1190.5,376.4 1192.7,391.1 1195.0,405.0 1197.2,418.2 1199.5,430.7 1201.7,442.6 1203.9,454.0 1206.2,464.8 1208.4,475.1 1210.7,485.1 1212.9,494.6 1215.1,503.7 1217.4,512.5 1219.6,521.0 1221.9,529.1 1224.1,537.0 1226.4,544.6 1228.6,552.0 1230.8,559.1 1233.1,566.0 1235.3,572.6 1237.6,579.1 1239.8,585.4 1242.0,591.5 1244.3,597.4 1246.5,603.1 1248.8,608.7 1251.0,614.1 1253.3,619.4 1255.5,624.6 1257.7,629.6 1260.0,634.5 1262.2,639.3 1264.5,643.9 1266.7,648.5 1269.0,652.9 1271.2,657.2 1273.4,661.5 1275.7,665.6 1277.9,669.6 1280.2,673.5 1282.4,677.4 1284.6,681.1 1286.9,684.8 1289.1,688.4 1291.4,691.9 1293.6,695.4 1295.9,698.7 1298.1,702.0 1300.3,705.2 1302.6,708.4 1304.8,711.5 1307.1,714.5 1309.3,717.4 1311.6,720.3 1313.8,723.2 1316.0,725.9 1318.3,728.6 1320.5,731.3 1322.8,733.9 1325.0,736.4 1327.2,738.9 1329.5,741.4 1331.7,743.8 1334.0,746.1 1336.2,748.4 1338.5,750.6 1340.7,752.8 1342.9,755.0 1345.2,757.1 1347.4,759.1 1349.7,761.2 1351.9,763.1 1354.1,765.0 1356.4,766.9 1358.6,768.8 1360.9,770.6 1363.1,772.3 1365.4,774.1 1367.6,775.7 1369.8,777.4 1372.1,779.0 1374.3,780.6 1376.6,782.1 1378.8,783.6 1381.1,785.1 1383.3,786.5 1385.5,787.9 1387.8,789.2 1390.0,790.5 1392.3,791.8 1394.5,793.1 1396.7,794.3 1399.0,795.5 1401.2,796.6 1403.5,797.8 1405.7,798.8 1408.0,799.9 1410.2,800.9 1412.4,801.9 1414.7,802.9 1416.9,803.8 1419.2,804.7 1421.4,805.6 1423.7,806.4 1425.9,807.2 1428.1,808.0 1430.4,808.8 1432.6,809.5 1434.9,810.2 1437.1,810.9 1439.3,811.5 1441.6,812.1 1443.8,812.7 1446.1,813.2 1448.3,813.8 1450.6,814.2 1452.8,814.7 1455.0,815.2 1457.3,815.6 1459.5,815.9 1461.8,816.3 1464.0,816.6 1466.2,816.9 1468.5,817.2 1470.7,817.4 1473.0,817.7 1475.2,817.9 1477.5,818.0 1479.7,818.2 1481.9,818.3 1484.2,818.4 1486.4,818.4 1488.7,818.4 1490.9,818.4 1493.2,818.4 1495.4,818.4 1497.6,818.3 1499.9,818.2 1502.1,818.0 1504.4,817.9 1506.6,817.7 1508.8,817.5 1511.1,817.2 1513.3,817.0 1515.6,816.7 1517.8,816.3 1520.1,816.0 1522.3,815.6 1524.5,815.2 1526.8,814.8 1529.0,814.3 1531.3,813.8 1533.5,813.3 1535.8,812.8 1538.0,812.2 1540.2,811.6 1542.5,811.0 1544.7,810.3 1547.0,809.6 1549.2,808.9 1551.4,808.1 1553.7,807.4 1555.9,806.6 1558.2,805.7 1560.4,804.9 1562.7,804.0 1564.9,803.0 1567.1,802.1 1569.4,801.1 1571.6,800.1 1573.9,799.0 1576.1,797.9 1578.3,796.8 1580.6,795.7 1582.8,794.5 1585.1,793.3 1587.3,792.0 1589.6,790.8 1591.8,789.4 1594.0,788.1 1596.3,786.7 1598.5,785.3 1600.8,783.8 1603.0,782.4 1605.3,780.8 1607.5,779.3 1609.7,777.7 1612.0,776.0 1614.2,774.4 1616.5,772.6 1618.7,770.9 1620.9,769.1 1623.2,767.3 1625.4,765.4 1627.7,763.5 1629.9,761.5 1632.2,759.5 1634.4,757.5 1636.6,755.4 1638.9,753.2 1641.1,751.1 1643.4,748.8 1645.6,746.6 1647.9,744.2 1650.1,741.9 1652.3,739.4 1654.6,737.0 1656.8,734.4 1659.1,731.8 1661.3,729.2 1663.5,726.5 1665.8,723.7 1668.0,720.9 1670.3,718.1 1672.5,715.1 1674.8,712.1 1677.0,709.1 1679.2,705.9 1681.5,702.7 1683.7,699.5 1686.0,696.1 1688.2,692.7 1690.4,689.2 1692.7,685.7 1694.9,682.0 1697.2,678.3 1699.4,674.5 1701.7,670.6 1703.9,666.6 1706.1,662.5 1708.4,658.3 1710.6,654.0 1712.9,649.6 1715.1,645.1 1717.4,640.5 1719.6,635.8 1721.8,630.9 1724.1,625.9 1726.3,620.8 1728.6,615.6 1730.8,610.2 1733.0,604.7 1735.3,599.0 1737.5,593.1 1739.8,587.1 1742.0,580.9 1744.3,574.5 1746.5,567.9 1748.7,561.1 1751.0,554.1 1753.2,546.8 1755.5,539.3 1757.7,531.6 1760.0,523.5 1762.2,515.2 1764.4,506.5 1766.7,497.5 1768.9,488.1 1771.2,478.4 1773.4,468.2 1775.6,457.6 1777.9,446.4 1780.1,434.8 1782.4,422.5 1784.6,409.6 1786.9,396.0 1789.1,381.6 1791.3,366.4 1793.6,350.2 1795.8,333.0 1798.1,314.7 1800.3,295.1 1802.5,274.1 1804.8,251.6 1807.0,227.7 1809.3,202.2 1811.5,175.7 1813.8,148.8 1816.0,123.1 1818.2,101.4 1820.5,87.1 1822.7,83.7 1825.0,92.0 1827.2,109.9 1829.5,133.8 1831.7,160.2 1833.9,187.1 1836.2,213.2 1838.4,238.0 1840.7,261.3 1842.9,283.2 1845.1,303.5 1847.4,322.6 1849.6,340.4 1851.9,357.2 1854.1,372.9 1856.4,387.8 1858.6,401.8 1860.8,415.1 1863.1,427.7 1865.3,439.7 1867.6,451.2 1869.8,462.1 1872.1,472.5 1874.3,482.5 1876.5,492.1 1878.8,501.3 1881.0,510.2 1883.3,518.7 1885.5,526.9 1887.7,534.8 1890.0,542.5 1892.2,549.9 1894.5,557.0 1896.7,563.9 1899.0,570.7 1901.2,577.2 1903.4,583.5 1905.7,589.6 1907.9,595.5 1910.2,601.3 1912.4,606.9 1914.6,612.4 1916.9,617.7 1919.1,622.9 1921.4,628.0 1923.6,632.9 1925.9,637.7 1928.1,642.4 1930.3,646.9 1932.6,651.4 1934.8,655.7 1937.1,660.0 1939.3,664.1 1941.6,668.1 1943.8,672.1 1946.0,676.0 1948.3,679.7 1950.5,683.4 1952.8,687.0 1955.0,690.6 1957.2,694.0 1959.5,697.4 1961.7,700.7 1964.0,704.0 1966.2,707.1 1968.5,710.2 1970.7,713.3 1972.9,716.2 1975.2,719.1 1977.4,722.0 1979.7,724.8 1981.9,727.5 1984.2,730.2 1986.4,732.8 1988.6,735.3 1990.9,737.8 1993.1,740.3 1995.4,742.7 1997.6,745.1 1999.8,747.4 2002.1,749.6 2004.3,751.8 2006.6,754.0 2008.8,756.1 2011.1,758.2 2013.3,760.2 2015.5,762.2 2017.8,764.1 2020.0,766.0 2022.3,767.9 2024.5,769.7 2026.7,771.5 2029.0,773.2 2031.2,774.9 2033.5,776.6 2035.7,778.2 2038.0,779.8 2040.2,781.3"/></defs>
<g filter="url(#soft)">
<rect x="0" y="0" width="2146" height="1695" fill="#ffffff"/>
<path d="M470.8,1468.0 V1449.5 M470.8,53.2 V73.1 M694.3,1468.0 V1449.5 M694.3,53.2 V73.1 M919.9,1468.0 V1449.5 M919.9,53.2 V73.1 M1143.4,1468.0 V1449.5 M1143.4,53.2 V73.1 M1366.7,1468.0 V1449.5 M1366.7,53.2 V73.1 M1592.9,1468.0 V1449.5 M1592.9,53.2 V73.1 M1816.0,1468.0 V1449.5 M1816.0,53.2 V73.1 M245.4,83.4 H266.1 M2037.0,83.4 H2020.7 M245.4,220.7 H266.1 M2037.0,220.7 H2020.7 M245.4,358.5 H266.1 M2037.0,358.5 H2020.7 M245.4,498.6 H266.1 M2037.0,498.6 H2020.7 M245.4,636.5 H266.1 M2037.0,636.5 H2020.7 M245.4,776.5 H266.1 M2037.0,776.5 H2020.7 M245.4,914.3 H266.1 M2037.0,914.3 H2020.7 M245.4,1052.2 H266.1 M2037.0,1052.2 H2020.7 M245.4,1192.5 H266.1 M2037.0,1192.5 H2020.7 M245.4,1329.9 H266.1 M2037.0,1329.9 H2020.7" stroke="#2b2b2b" stroke-width="3.4" fill="none"/>
<rect x="245.4" y="53.2" width="1791.6" height="1414.8" fill="none" stroke="#2b2b2b" stroke-width="4.1"/>
<g fill="none" stroke="#0072c4" stroke-width="4.1" stroke-linejoin="round"><use href="#c0" x="-0.5"/><use href="#c0" x="0.5"/></g><g fill="none" stroke="#ff5208" stroke-width="4.1" stroke-linejoin="round"><use href="#c1" x="-0.5"/><use href="#c1" x="0.5"/></g><g fill="none" stroke="#ffae00" stroke-width="4.1" stroke-linejoin="round"><use href="#c2" x="-0.5"/><use href="#c2" x="0.5"/></g>
<text class="tk" transform="translate(244.8,1549.6) scale(1,1.05)" text-anchor="middle">0.848</text>
<text class="tk" letter-spacing="0.8" transform="translate(468.7,1549.6) scale(1,1.05)" text-anchor="middle">0.8485</text>
<text class="tk" transform="translate(693.9,1549.6) scale(1,1.05)" text-anchor="middle">0.849</text>
<text class="tk" letter-spacing="0.8" transform="translate(918.8,1549.6) scale(1,1.05)" text-anchor="middle">0.8495</text>
<text class="tk" transform="translate(1145.2,1549.6) scale(1,1.05)" text-anchor="middle">0.85</text>
<text class="tk" letter-spacing="0.8" transform="translate(1368.1,1549.6) scale(1,1.05)" text-anchor="middle">0.8505</text>
<text class="tk" transform="translate(1587.8,1549.6) scale(1,1.05)" text-anchor="middle">0.851</text>
<text class="tk" letter-spacing="0.8" transform="translate(1817.1,1549.6) scale(1,1.05)" text-anchor="middle">0.8515</text>
<text class="tk" transform="translate(2039.5,1549.6) scale(1,1.05)" text-anchor="middle">0.852</text>
<text class="tk" transform="translate(0,104.4) scale(1,1.05)"><tspan x="221.3" y="0" text-anchor="end">0</tspan></text>
<text class="tk" transform="translate(0,241.6) scale(1,1.05)"><tspan class="mn" x="159.9" y="-0.19">−</tspan><tspan x="225.2" y="0" text-anchor="end">5</tspan></text>
<text class="tk" transform="translate(0,381.6) scale(1,1.05)"><tspan class="mn" x="133.9" y="2.95">−</tspan><tspan x="224.4" y="0" text-anchor="end">10</tspan></text>
<text class="tk" transform="translate(0,520.0) scale(1,1.05)"><tspan class="mn" x="136.3" y="3.81">−</tspan><tspan x="225.2" y="0" text-anchor="end">15</tspan></text>
<text class="tk" transform="translate(0,660.1) scale(1,1.05)"><tspan class="mn" x="131.7" y="0.19">−</tspan><tspan x="224.4" y="0" text-anchor="end">20</tspan></text>
<text class="tk" transform="translate(0,798.0) scale(1,1.05)"><tspan class="mn" x="131.7" y="-0.48">−</tspan><tspan x="225.2" y="0" text-anchor="end">25</tspan></text>
<text class="tk" transform="translate(0,935.6) scale(1,1.05)"><tspan class="mn" x="133.7" y="0.10">−</tspan><tspan x="224.4" y="0" text-anchor="end">30</tspan></text>
<text class="tk" transform="translate(0,1074.9) scale(1,1.05)"><tspan class="mn" x="133.8" y="-0.29">−</tspan><tspan x="225.2" y="0" text-anchor="end">35</tspan></text>
<text class="tk" transform="translate(0,1213.9) scale(1,1.05)"><tspan class="mn" x="125.9" y="3.81">−</tspan><tspan x="224.4" y="0" text-anchor="end">40</tspan></text>
<text class="tk" transform="translate(0,1353.4) scale(1,1.05)"><tspan class="mn" x="127.1" y="5.24">−</tspan><tspan x="225.2" y="0" text-anchor="end">45</tspan></text>
<text class="tk" transform="translate(0,1490.8) scale(1,1.05)"><tspan class="mn" x="129.8" y="0.38">−</tspan><tspan x="224.4" y="0" text-anchor="end">50</tspan></text>
<text class="lb" transform="translate(1144.8,1638.5) scale(1,1.0)" text-anchor="middle">Wavelength (µm)</text>
<text class="lb" style="font-size:77.1px" transform="translate(110.9,761.8) rotate(-90) scale(1,1.0)" text-anchor="middle">Transmission (dB)</text>
<rect x="246.9" y="1176.2" width="466.5" height="289.5" fill="#ffffff" stroke="#161616" stroke-width="3.8"/>
<line x1="264" y1="1227.6" x2="429.8" y2="1227.6" stroke="#0072c4" stroke-width="4.8"/>
<text class="lg" transform="translate(441.5,1234.7) scale(1,1.0)">k<tspan class="sb" dx="3.7" dy="27">1</tspan><tspan dy="-27">=k</tspan><tspan class="sb" dx="0.3" dy="27">2</tspan><tspan dx="1.2" dy="-27">=</tspan><tspan dx="1.6">0.1</tspan></text>
<line x1="264" y1="1321.3" x2="429.8" y2="1321.3" stroke="#ff5208" stroke-width="4.8"/>
<text class="lg" transform="translate(441.5,1328.1) scale(1,1.0)">k<tspan class="sb" dx="3.7" dy="27">1</tspan><tspan dy="-27">=k</tspan><tspan class="sb" dx="0.3" dy="27">2</tspan><tspan dx="1.2" dy="-27">=</tspan><tspan dx="1.6">0.2</tspan></text>
<line x1="264" y1="1412.3" x2="429.8" y2="1412.3" stroke="#ffae00" stroke-width="4.8"/>
<text class="lg" transform="translate(441.5,1422.2) scale(1,1.0)">k<tspan class="sb" dx="3.7" dy="27">1</tspan><tspan dy="-27">=k</tspan><tspan class="sb" dx="0.3" dy="27">2</tspan><tspan dx="1.2" dy="-27">=</tspan><tspan dx="1.6">0.3</tspan></text>
</g>
</svg></body></html>
